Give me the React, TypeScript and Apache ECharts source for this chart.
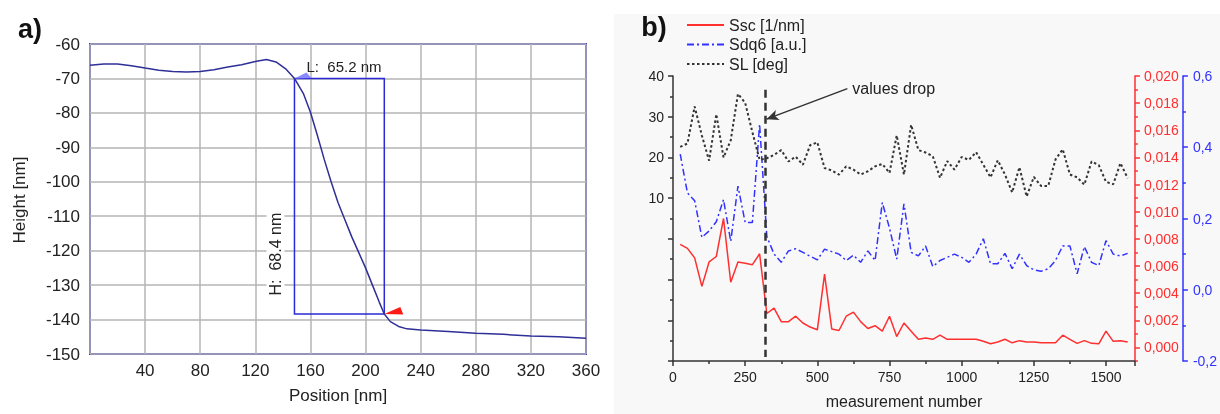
import React, { useEffect, useRef } from "react";
import * as echarts from "echarts";

const FONT = '"Liberation Sans", Arial, sans-serif';

// ---------- Panel a: height profile ----------
const profileX = [0, 10, 20, 30, 40, 50, 60, 70, 80, 90, 100, 110, 120, 128, 135, 142, 148.4, 155, 160, 165, 170, 175, 180, 185, 190, 195, 200, 205, 210, 213.6, 218, 224, 230, 240, 260, 280, 300, 320, 340, 360];
const profileY = [-66.2, -65.8, -65.8, -66.3, -67.0, -67.6, -68.0, -68.1, -68.0, -67.5, -66.7, -66.0, -65.1, -64.5, -65.2, -67.2, -70.0, -74.5, -79.8, -86.5, -93.5, -100, -106, -111, -116, -120.5, -125, -130, -135, -138.4, -140.6, -142.0, -142.7, -143.0, -143.5, -144.0, -144.3, -144.8, -145.0, -145.4];
const stepStart = [148.4, -70];
const stepEnd = [213.6, -138.4];
const stepLabelL = "L:  65.2 nm";
const stepLabelH = "H:  68.4 nm";

// ---------- Panel b: roughness parameters ----------
const measurement = [25, 50, 75, 100, 125, 150, 175, 200, 225, 250, 275, 300, 325, 350, 375, 400, 425, 450, 475, 500, 525, 550, 575, 600, 625, 650, 675, 700, 725, 750, 775, 800, 825, 850, 875, 900, 925, 950, 975, 1000, 1025, 1050, 1075, 1100, 1125, 1150, 1175, 1200, 1225, 1250, 1275, 1300, 1325, 1350, 1375, 1400, 1425, 1450, 1475, 1500, 1525, 1550, 1575];
const sscValues = [0.0076, 0.0073, 0.0066, 0.0045, 0.0063, 0.0067, 0.0095, 0.0048, 0.0063, 0.0062, 0.0061, 0.0069, 0.0025, 0.0029, 0.0019, 0.0019, 0.0023, 0.0018, 0.0015, 0.0013, 0.0054, 0.00135, 0.00125, 0.0023, 0.0026, 0.0019, 0.0014, 0.0016, 0.0012, 0.0023, 0.0008, 0.0018, 0.0012, 0.0006, 0.0007, 0.0006, 0.0009, 0.0006, 0.0006, 0.0006, 0.0006, 0.0006, 0.00045, 0.00027, 0.0004, 0.0006, 0.00034, 0.0005, 0.0004, 0.0004, 0.00034, 0.00034, 0.00035, 0.0009, 0.0006, 0.0003, 0.0005, 0.0003, 0.00027, 0.0012, 0.00045, 0.0005, 0.0004];
const sdqValues = [0.381, 0.272, 0.25, 0.147, 0.165, 0.191, 0.253, 0.136, 0.291, 0.189, 0.189, 0.465, 0.15, 0.1, 0.077, 0.109, 0.115, 0.105, 0.094, 0.084, 0.114, 0.107, 0.1, 0.082, 0.097, 0.077, 0.109, 0.082, 0.245, 0.173, 0.086, 0.241, 0.105, 0.095, 0.123, 0.065, 0.082, 0.091, 0.1, 0.091, 0.077, 0.1, 0.143, 0.073, 0.073, 0.102, 0.059, 0.1, 0.068, 0.056, 0.052, 0.059, 0.082, 0.123, 0.123, 0.045, 0.121, 0.077, 0.068, 0.138, 0.1, 0.095, 0.102];
const slValues = [22.6, 23.4, 32.5, 25.4, 19.2, 30.6, 20, 24.2, 35.6, 33.4, 26.2, 19.4, 19.8, 20.6, 21.8, 19, 20.2, 18.2, 23, 23.7, 17.4, 16.8, 15.8, 17.8, 17, 15.8, 16.6, 17.8, 18.4, 16.2, 25.4, 15.8, 28, 21.8, 21.2, 20.3, 15, 19.1, 17, 20.1, 19.4, 21.3, 18.2, 15.1, 19.3, 15.8, 11.4, 17.6, 10.4, 15.2, 13, 13, 19.5, 22, 15.8, 15.1, 13.3, 19, 18.1, 14, 13.4, 18.6, 14.9];
const seriesNames = ["Ssc [1/nm]", "Sdq6 [a.u.]", "SL [deg]"];
const sscMajorTicks = [0, 0.002, 0.004, 0.006, 0.008, 0.01, 0.012, 0.014, 0.016, 0.018, 0.02];
const sscMinorTicks = [-0.001, 0.001, 0.003, 0.005, 0.007, 0.009, 0.011, 0.013, 0.015, 0.017, 0.019];
const dropX = 318;
const dropLine = [36.6, -29];
const arrowFrom = [604, 36.9];
const arrowTo = [324, 29.4];
const dropLabel = "values drop";

const RED = "#ff2f2f";
const BLUE = "#3232ff";
const DARK = "#333";

export default function App() {
  const ref = useRef<HTMLDivElement>(null);
  useEffect(() => {
    const chart = echarts.init(ref.current!, null, { renderer: "svg" });
    const tickStyle = (c: string) => ({ color: c, width: 1.5 });
    const option: any = {
      animation: false,
      textStyle: { fontFamily: FONT },
      legend: {
        left: 681,
        top: 12,
        orient: "vertical",
        itemWidth: 37,
        itemHeight: 12,
        itemGap: 3.5,
        itemStyle: { opacity: 0 },
        textStyle: { fontSize: 16, color: "#222", lineHeight: 16, fontFamily: FONT },
        data: seriesNames,
      },
      grid: [
        { left: 90, top: 44, width: 496, height: 310, show: true, borderColor: "#3434c8", borderWidth: 2, backgroundColor: "#fff" },
        { left: 673, top: 76, width: 469, height: 291 },
      ],
      xAxis: [
        {
          gridIndex: 0, type: "value", min: 0, max: 360, interval: 40,
          axisLine: { show: false }, axisTick: { show: false },
          splitLine: { show: true, lineStyle: { color: "#b4b4b4", width: 1.5 } },
          axisLabel: { showMinLabel: false, fontSize: 17, color: "#222", margin: 8 },
          name: "Position [nm]", nameLocation: "middle", nameGap: 33,
          nameTextStyle: { fontSize: 17, color: "#222" },
        },
        {
          gridIndex: 1, type: "value", min: 0, max: 1600, interval: 250,
          axisLine: { show: true, onZero: false, lineStyle: tickStyle(DARK) },
          axisTick: { show: true, length: 5, lineStyle: tickStyle(DARK) },
          minorTick: { show: true, splitNumber: 2, length: 3, lineStyle: tickStyle(DARK) },
          splitLine: { show: false },
          axisLabel: { showMaxLabel: false, formatter: (v: number) => String(v), fontSize: 14, color: "#222", margin: 9 },
          name: "measurement number", nameLocation: "middle", nameGap: 32,
          nameTextStyle: { fontSize: 16, color: "#222" },
        },
      ],
      yAxis: [
        {
          gridIndex: 0, type: "value", min: -150, max: -60, interval: 10,
          axisLine: { show: false }, axisTick: { show: false },
          splitLine: { show: true, lineStyle: { color: "#b4b4b4", width: 1.5 } },
          axisLabel: { fontSize: 17, color: "#222", margin: 10 },
        },
        {
          gridIndex: 1, type: "value", position: "left", min: -30, max: 40, interval: 10,
          axisLine: { show: true, onZero: false, lineStyle: tickStyle(DARK) },
          axisTick: { show: true, length: 5, lineStyle: tickStyle(DARK) },
          minorTick: { show: true, splitNumber: 2, length: 3, lineStyle: tickStyle(DARK) },
          splitLine: { show: false },
          axisLabel: { formatter: (v: number) => (v >= 10 ? String(v) : ""), fontSize: 14, color: "#222", margin: 9 },
        },
        {
          gridIndex: 1, type: "value", position: "right", min: -0.001, max: 0.02,
          axisLine: { show: true, onZero: false, lineStyle: tickStyle(RED) },
          axisTick: { show: true, length: 5, customValues: sscMajorTicks, lineStyle: tickStyle(RED) },
          splitLine: { show: false },
          axisLabel: {
            customValues: sscMajorTicks,
            formatter: (v: number) => v.toFixed(3).replace(".", ","),
            fontSize: 14, color: RED, margin: 9,
          },
        },
        {
          gridIndex: 1, type: "value", position: "right", min: -0.001, max: 0.02,
          axisLine: { show: false, onZero: false },
          axisTick: { show: true, length: 3, customValues: sscMinorTicks, lineStyle: tickStyle(RED) },
          splitLine: { show: false },
          axisLabel: { show: false },
        },
        {
          gridIndex: 1, type: "value", position: "right", offset: 48, min: -0.2, max: 0.6, interval: 0.2,
          axisLine: { show: true, onZero: false, lineStyle: tickStyle(BLUE) },
          axisTick: { show: true, length: 5, lineStyle: tickStyle(BLUE) },
          minorTick: { show: true, splitNumber: 2, length: 3, lineStyle: tickStyle(BLUE) },
          splitLine: { show: false },
          axisLabel: { formatter: (v: number) => v.toFixed(1).replace(".", ","), fontSize: 14, color: BLUE, margin: 10 },
        },
      ],
      series: [
        {
          type: "line", xAxisIndex: 0, yAxisIndex: 0, symbol: "none", showSymbol: false,
          data: profileX.map((x, i) => [x, profileY[i]]),
          lineStyle: { color: "#2f2f98", width: 1.5 },
          markArea: {
            silent: true,
            label: { show: false },
            itemStyle: { color: "rgba(0,0,0,0)", borderColor: "#2a2ad8", borderWidth: 1.5 },
            data: [[{ coord: stepStart }, { coord: stepEnd }]],
          },
        },
        {
          name: seriesNames[0], type: "line", xAxisIndex: 1, yAxisIndex: 2, symbol: "none", showSymbol: false,
          data: measurement.map((m, i) => [m, sscValues[i]]),
          lineStyle: { color: RED, width: 1.5 }, itemStyle: { color: RED },
        },
        {
          name: seriesNames[1], type: "line", xAxisIndex: 1, yAxisIndex: 4, symbol: "none", showSymbol: false,
          data: measurement.map((m, i) => [m, sdqValues[i]]),
          lineStyle: { color: BLUE, width: 1.5, type: [7, 3, 2, 3] }, itemStyle: { color: BLUE },
        },
        {
          name: seriesNames[2], type: "line", xAxisIndex: 1, yAxisIndex: 1, symbol: "none", showSymbol: false,
          data: measurement.map((m, i) => [m, slValues[i]]),
          lineStyle: { color: DARK, width: 2, type: [2.5, 2.5] }, itemStyle: { color: DARK },
          markLine: {
            silent: true,
            symbol: ["none", "none"],
            label: { show: false },
            data: [
              [
                { coord: [dropX, dropLine[0]], lineStyle: { color: DARK, width: 2.5, type: [8, 5] } },
                { coord: [dropX, dropLine[1]], lineStyle: { color: DARK, width: 2.5, type: [8, 5] } },
              ],
              [
                { coord: arrowFrom, symbol: "none", lineStyle: { color: DARK, width: 1.5, type: "solid" } },
                { coord: arrowTo, symbol: "arrow", symbolSize: [8, 12], lineStyle: { color: DARK, width: 1.5, type: "solid" } },
              ],
            ],
          },
        },
      ],
    };
    chart.setOption(option);

    const pA = (v: number[]) => chart.convertToPixel({ seriesIndex: 0 }, v) as number[];
    const pB = (v: number[]) => chart.convertToPixel({ seriesIndex: 3 }, v) as number[];
    const s0 = pA(stepStart);
    const s1 = pA(stepEnd);
    const hMid = pA([stepStart[0], -121]);
    const arr = pB(arrowFrom);

    chart.setOption({
      graphic: [
        { type: "rect", silent: true, z: -10, shape: { x: 614, y: 14, width: 606, height: 400 }, style: { fill: "#f8f8f8" } },
        { type: "text", x: 30, y: 29, style: { text: "a)", font: `bold 27px ${FONT}`, fill: "#111", align: "center", verticalAlign: "middle" } },
        { type: "text", x: 654, y: 27, style: { text: "b)", font: `bold 27px ${FONT}`, fill: "#111", align: "center", verticalAlign: "middle" } },
        { type: "text", x: 19, y: 200, rotation: Math.PI / 2, style: { text: "Height [nm]", font: `17px ${FONT}`, fill: "#222", align: "center", verticalAlign: "middle" } },
        {
          type: "polygon", z: 10,
          shape: { points: [[s1[0], s1[1]], [s1[0] + 19, s1[1] + 0.5], [s1[0] + 16, s1[1] - 7]] },
          style: { fill: "#ff1a1a" },
        },
        {
          type: "polygon", z: 10,
          shape: { points: [[s0[0], s0[1]], [s0[0] + 17, s0[1] - 0.5], [s0[0] + 12, s0[1] - 6]] },
          style: { fill: "#8a8aff" },
        },
        { type: "text", z: 10, x: s0[0] + 12, y: s0[1] - 12, style: { text: stepLabelL, font: `15px ${FONT}`, fill: "#222", align: "left", verticalAlign: "middle" } },
        {
          type: "text", z: 10, x: hMid[0] - 19, y: hMid[1], rotation: Math.PI / 2,
          style: { text: stepLabelH, font: `16px ${FONT}`, fill: "#222", align: "center", verticalAlign: "middle", backgroundColor: "#fff", padding: [1, 4] },
        },
        { type: "text", z: 10, x: arr[0] + 5, y: arr[1], style: { text: dropLabel, font: `16px ${FONT}`, fill: "#222", align: "left", verticalAlign: "middle" } },
      ],
    });

    return () => chart.dispose();
  }, []);
  return <div ref={ref} style={{ position: "fixed", left: 0, top: 0, width: 1220, height: 414 }} />;
}
